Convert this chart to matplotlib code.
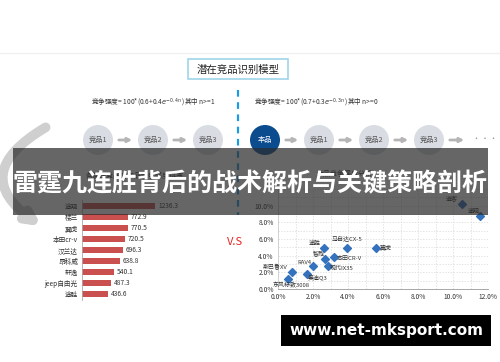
import matplotlib
matplotlib.use("Agg")
from matplotlib import pyplot as plt
from matplotlib.patches import Rectangle, Circle, FancyArrowPatch
from matplotlib.ticker import FuncFormatter

plt.rcParams['font.family'] = ['Noto Sans CJK SC', 'DejaVu Sans']
plt.rcParams['mathtext.fontset'] = 'dejavusans'

W, H = 500, 362

# data
bar_names = ['途观', '楼兰', '翼虎', '本田cr-v', '汉兰达', '昂科威', '轩逸', 'jeep自由光', '途胜']
bar_values = [1236.3, 772.9, 770.5, 720.5, 696.3, 638.8, 540.1, 487.3, 436.6]

pt_names = ['东风标致3008', '斯巴鲁XV', '奥迪Q3', 'RAV4', '途胜', '智跑', '本田CR-V',
            '现代IX35', '马自达CX-5', '翼虎', '逍客', '途观']
pt_x = [0.59, 0.82, 1.68, 2.02, 2.63, 2.67, 3.18, 2.88, 3.92, 5.60, 10.53, 11.54]
pt_y = [1.16, 2.04, 1.76, 2.76, 4.96, 3.56, 3.88, 2.80, 4.96, 4.96, 10.20, 8.76]
# label placement (dx, dy in pixels, ha)
pt_lab = [(3, -6, 'center'), (-5, 5, 'right'), (0, -4, 'left'), (-2, 4, 'right'),
          (-3, 4, 'right'), (0, 5, 'right'), (3, -2, 'left'), (1, -3, 'left'),
          (0, 9, 'center'), (4, 0, 'left'), (-5, 5, 'right'), (0, 5, 'right')]

left_steps = ['竞品1', '竞品2', '竞品3']
right_steps = ['本品', '竞品1', '竞品2', '竞品3']

fig = plt.figure(figsize=(5, 3.62), dpi=100)


def box(x0, y0, x1, y1):
    return [x0 / W, 1 - y1 / H, (x1 - x0) / W, (y1 - y0) / H]


# background diagram
bg = fig.add_axes([0, 0, 1, 1])
bg.set_xlim(0, W)
bg.set_ylim(H, 0)
bg.axis('off')
bg.plot([0, W], [53, 53], color='#f0f0f0', lw=1)
bg.add_patch(Rectangle((188, 59), 100, 20, fill=False, ec='#9fd4ea', lw=1.2))
bg.text(238, 69.5, '潜在竞品识别模型', ha='center', va='center', fontsize=7.5, color='#222222')
bg.plot([238, 238], [90, 215], color='#1e9be0', lw=1.6, ls=(0, (3, 2.5)))
bg.text(91, 103, r'竞争强度= 100*(0.6+0.4$e^{-0.4n}$ )其中 n>=1', fontsize=4.8,
        va='center', color='#333333')
bg.text(254, 103, r'竞争强度= 100*(0.7+0.3$e^{-0.3n}$ )其中 n>=0', fontsize=4.8,
        va='center', color='#333333')


def steps(xs, names, first_dark=False):
    for i, (cx, nm) in enumerate(zip(xs, names)):
        dark = first_dark and i == 0
        bg.add_patch(Circle((cx, 140), 15, color='#0b4c8f' if dark else '#d9dde3', lw=0))
        bg.text(cx, 140, nm, ha='center', va='center', fontsize=5.2,
                color='white' if dark else '#555555')
    for a, b in zip(xs[:-1], xs[1:]):
        bg.add_patch(FancyArrowPatch((a + 18, 140), (b - 18, 140), arrowstyle='-|>',
                                     mutation_scale=6, color='#b5b5b5', lw=2))


steps([98, 153, 208], left_steps)
steps([265, 319, 374, 429], right_steps, first_dark=True)
bg.add_patch(FancyArrowPatch((447, 140), (467, 140), arrowstyle='-|>',
                             mutation_scale=6, color='#b5b5b5', lw=2))
bg.text(485, 139, '· · ·', ha='center', va='center', fontsize=5, color='#888888')
bg.add_patch(FancyArrowPatch((48, 126), (44, 228), connectionstyle='arc3,rad=0.8',
                             arrowstyle='-|>', mutation_scale=18, color='#cfcfcf', lw=7))
bg.text(235, 242, 'V.S', ha='center', va='center', fontsize=8, color='#e8231f')
bg.text(135, 176, '各潜在竞品对本品竞争强度排序', ha='center', va='center', fontsize=5, color='#333333')
bg.text(345, 174, '竞品竞争强度分析', ha='center', va='center', fontsize=5, color='#333333')

# bar chart
bx = fig.add_axes(box(82, 200, 170, 300))
pos = list(range(len(bar_names)))
bx.barh(pos, bar_values, height=0.62, color='#c9504f')
for p, v in zip(pos, bar_values):
    bx.text(v + 50, p, f'{v:.1f}', va='center', fontsize=4.8, color='#333333')
bx.set_xlim(0, 1490)
bx.set_ylim(len(bar_names) - 0.45, -0.55)
bx.set_yticks(pos)
bx.set_yticklabels(bar_names, fontsize=4.8, color='#333333')
bx.tick_params(axis='y', length=0, pad=3)
bx.set_xticks([])
for s in ['top', 'right', 'bottom']:
    bx.spines[s].set_visible(False)
bx.spines['left'].set_color('#aaaaaa')
bx.spines['left'].set_linewidth(0.6)
bx.patch.set_alpha(0)

# scatter chart
sx = fig.add_axes(box(278, 189, 488, 289))
sx.scatter(pt_x, pt_y, marker='D', s=16, color='#3572bd', zorder=3)
for nm, x, y, (dx, dy, ha) in zip(pt_names, pt_x, pt_y, pt_lab):
    sx.annotate(nm, (x, y), xytext=(dx * 0.72, dy * 0.72), textcoords='offset points',
                ha=ha, va='center', fontsize=4.3, color='#333333')
sx.set_xlim(0, 12)
sx.set_ylim(0, 12)
sx.set_xticks(range(0, 13, 2))
sx.set_yticks(range(0, 11, 2))
pct = FuncFormatter(lambda v, p: f'{v:.1f}%')
sx.xaxis.set_major_formatter(pct)
sx.yaxis.set_major_formatter(pct)
sx.tick_params(labelsize=4.8, length=0, colors='#333333', pad=3)
sx.set_xticks(range(0, 13, 1), minor=True)
sx.set_yticks(range(0, 13, 1), minor=True)
sx.tick_params(which='minor', length=0)
sx.grid(True, which='both', ls=(0, (2, 2)), color='#d8d8d8', lw=0.5)
for s in ['top', 'right']:
    sx.spines[s].set_visible(False)
sx.spines['left'].set_color('#cccccc')
sx.spines['bottom'].set_color('#999999')
sx.spines['left'].set_linewidth(0.6)
sx.spines['bottom'].set_linewidth(0.6)
sx.patch.set_alpha(0)

# top layer: banner and watermark
top = fig.add_axes([0, 0, 1, 1])
top.set_xlim(0, W)
top.set_ylim(H, 0)
top.axis('off')
top.patch.set_alpha(0)
top.add_patch(Rectangle((13, 148), 475, 67, color='#2b2b2b', alpha=0.72, lw=0))
top.text(250, 184, '雷霆九连胜背后的战术解析与关键策略剖析', ha='center', va='center',
         fontsize=18, fontweight='bold', color='white')
top.add_patch(Rectangle((281, 315), 210, 31, color='black', lw=0))
top.text(386, 330.5, 'www.net-mksport.com', ha='center', va='center',
         fontsize=11, fontweight='bold', color='white', family='DejaVu Sans')

fig.savefig('out.png', dpi=100)
